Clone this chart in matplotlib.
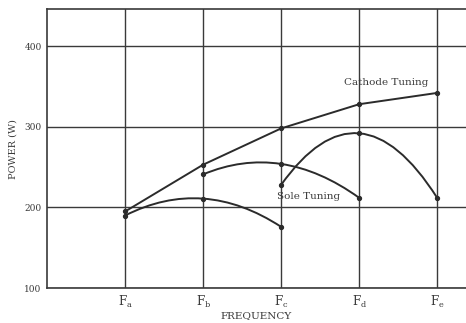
import matplotlib as mpl
mpl.use('Agg')
import matplotlib.pyplot as plt
from matplotlib.path import Path
from matplotlib.patches import PathPatch

plt.rcParams['font.family'] = ['DejaVu Serif']
plt.rcParams['mathtext.fontset'] = 'dejavuserif'

# frequency positions (Fa..Fe)
freq_labels = ['$\\mathrm{F_a}$', '$\\mathrm{F_b}$', '$\\mathrm{F_c}$', '$\\mathrm{F_d}$', '$\\mathrm{F_e}$']
freq_pos = [1, 2, 3, 4, 5]

# cathode tuning, Fa..Fe
cathode_x = [1, 2, 3, 4, 5]
cathode_y = [195, 253, 298, 328, 342]

# sole tuning curves (start, middle, end)
sole1_x = [1, 2, 3]
sole1_y = [190, 211, 176]
sole2_x = [2, 3, 4]
sole2_y = [241, 254, 212]
sole3_x = [3, 4, 5]
sole3_y = [228, 292, 212]

line_col = '#2b2b2b'
txt_col = '#3a3a3a'

fig = plt.figure(figsize=(4.66, 3.23), dpi=100)
ax = fig.add_axes([0.101, 0.108, 0.899, 0.864])

ax.plot(cathode_x, cathode_y, color=line_col, lw=1.4, marker='o', ms=2.8, zorder=3)


def smooth_curve(xs, ys):
    # quadratic bezier through three points (middle point hit at t=0.5)
    cx = 2 * xs[1] - (xs[0] + xs[2]) / 2
    cy = 2 * ys[1] - (ys[0] + ys[2]) / 2
    verts = [(xs[0], ys[0]), (cx, cy), (xs[2], ys[2])]
    p = Path(verts, [Path.MOVETO, Path.CURVE3, Path.CURVE3])
    ax.add_patch(PathPatch(p, fill=False, edgecolor=line_col, lw=1.4, zorder=3))
    ax.plot(xs, ys, 'o', color=line_col, ms=2.8, zorder=3)


smooth_curve(sole1_x, sole1_y)
smooth_curve(sole2_x, sole2_y)
smooth_curve(sole3_x, sole3_y)

ax.text(4.35, 355, 'Cathode Tuning', fontsize=7.5, ha='center', va='center', color=txt_col)
ax.text(3.35, 213, 'Sole Tuning', fontsize=7.5, ha='center', va='center', color=txt_col)

ax.set_xlim(0, 5.37)
ax.set_ylim(100, 446)
ax.set_xticks(freq_pos)
ax.set_yticks([100, 200, 300, 400])
ax.tick_params(length=0, labelsize=6.5, colors=txt_col, pad=4)
ax.set_xticklabels(freq_labels, fontsize=8.5)
ax.grid(True, color='#3a3a3a', lw=1.0)
for s in ['left', 'top', 'bottom']:
    ax.spines[s].set_color('#3a3a3a')
    ax.spines[s].set_linewidth(1.2)
ax.spines['right'].set_visible(False)

ax.set_xlabel('FREQUENCY', fontsize=7.5, color=txt_col, labelpad=1)
ax.set_ylabel('POWER (W)', fontsize=7, color=txt_col, labelpad=5)

plt.savefig('out.png', dpi=100)
